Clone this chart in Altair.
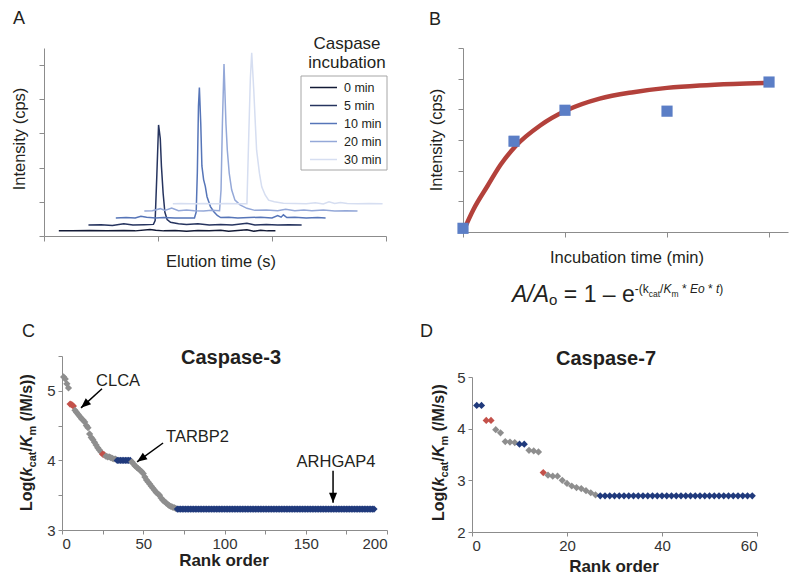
import altair as alt
import pandas as pd

FONT = "Liberation Sans"
TXT = "#231f20"
AX = "#8c8c8c"
H = 568  # drawing height

# ---------------- Panel A : elution traces ----------------
trace_labels = ["0 min", "5 min", "10 min", "20 min", "30 min"]
trace_colors = ["#131a36", "#26345f", "#5675b8", "#94a8d8", "#d6def1"]

t0_x = [0.13, 0.25, 0.40, 0.55, 0.70, 0.80, 0.93, 0.98, 1.05, 1.15, 1.25, 1.35, 1.45, 1.55, 1.62, 1.70, 1.78, 1.84, 1.90, 1.96, 2.03]
t0_y = [0.15, 0.15, 0.16, 0.15, 0.16, 0.15, 0.19, 0.17, 0.15, 0.16, 0.14, 0.16, 0.15, 0.17, 0.14, 0.16, 0.18, 0.14, 0.17, 0.15, 0.15]

t5_x = [0.39, 0.50, 0.60, 0.70, 0.78, 0.88, 0.96, 0.975, 0.99, 1.005, 1.02, 1.03, 1.045, 1.06, 1.08, 1.11,
        1.18, 1.25, 1.35, 1.45, 1.55, 1.65, 1.78, 1.85, 1.95, 2.05, 2.15, 2.26]
t5_y = [0.32, 0.33, 0.31, 0.36, 0.32, 0.33, 0.34, 0.45, 1.80, 3.25, 2.85, 2.05, 1.25, 0.70, 0.48, 0.40,
        0.36, 0.34, 0.36, 0.32, 0.34, 0.32, 0.37, 0.32, 0.34, 0.32, 0.33, 0.32]

t10_x = [0.63, 0.72, 0.80, 0.85, 0.90, 0.98, 1.05, 1.15, 1.25, 1.32,
         1.335, 1.345, 1.355, 1.363, 1.375, 1.385, 1.40, 1.415, 1.43, 1.46, 1.49, 1.52, 1.55,
         1.62, 1.70, 1.80, 1.90, 2.00, 2.05, 2.08, 2.10, 2.13, 2.20, 2.30, 2.40, 2.47]
t10_y = [0.53, 0.54, 0.53, 0.58, 0.55, 0.53, 0.54, 0.53, 0.53, 0.53,
         0.70, 1.85, 3.80, 4.34, 3.30, 2.05, 1.65, 1.45, 1.15, 0.86, 0.71, 0.60, 0.54,
         0.55, 0.53, 0.54, 0.55, 0.53, 0.60, 0.55, 0.62, 0.54, 0.55, 0.53, 0.54, 0.53]

t20_x = [0.88, 0.95, 1.02, 1.06, 1.12, 1.18, 1.25, 1.32, 1.40, 1.47, 1.54,
         1.553, 1.565, 1.579, 1.596, 1.608, 1.625, 1.646, 1.675, 1.72, 1.78, 1.85,
         1.95, 2.05, 2.12, 2.20, 2.28, 2.35, 2.45, 2.55, 2.65, 2.75]
t20_y = [0.73, 0.74, 0.80, 0.75, 0.82, 0.74, 0.76, 0.74, 0.73, 0.75, 0.74,
         1.35, 3.30, 5.03, 3.29, 2.51, 1.83, 1.35, 1.05, 0.91, 0.81, 0.75,
         0.76, 0.74, 0.78, 0.74, 0.76, 0.74, 0.76, 0.73, 0.74, 0.73]

t30_x = [1.13, 1.20, 1.30, 1.40, 1.50, 1.60, 1.70, 1.78,
         1.795, 1.81, 1.822, 1.84, 1.855, 1.865, 1.89, 1.91, 1.94, 1.97, 2.02,
         2.10, 2.20, 2.30, 2.38, 2.45, 2.50, 2.55, 2.60, 2.66, 2.75, 2.85, 2.97]
t30_y = [0.94, 0.95, 0.94, 0.95, 0.94, 0.95, 0.94, 0.94,
         2.80, 4.60, 5.36, 4.27, 3.20, 2.51, 1.83, 1.44, 1.20, 1.05, 1.00,
         0.96, 0.95, 0.94, 0.97, 0.94, 1.00, 0.95, 0.98, 0.95, 0.94, 0.95, 0.94]

# ---------------- Panel B : kinetics ----------------
b_time = [0, 5, 10, 20, 30]
b_intensity = [0.12, 2.96, 3.97, 3.94, 4.89]
fit_time = [0, 1, 2.4, 3.7, 5.1, 7.6, 10.1, 13.4, 16.7, 20, 23.2, 26.5, 30]
fit_intensity = [0.0, 0.72, 1.50, 2.20, 2.78, 3.48, 3.96, 4.35, 4.56, 4.70, 4.78, 4.83, 4.86]

# ---------------- Panel C : caspase-3 ----------------
c_head = [5.20, 5.17, 5.10, 5.04, 4.81, 4.80, 4.78, 4.72, 4.69, 4.66, 4.63, 4.60, 4.58, 4.55, 4.50, 4.47,
          4.38, 4.33, 4.30, 4.26, 4.22, 4.18, 4.15, 4.12, 4.09, 4.08, 4.06, 4.05, 4.05, 4.04, 4.03, 4.02, 4.02,
          4.00, 4.00, 4.00, 4.00, 4.00, 4.00, 4.00, 4.00, 4.00,
          3.98, 3.95, 3.92, 3.90, 3.88, 3.86, 3.84, 3.81, 3.76, 3.72, 3.69, 3.66, 3.63, 3.60, 3.57, 3.54,
          3.52, 3.50, 3.46, 3.43, 3.41, 3.39, 3.37, 3.35, 3.34, 3.33, 3.32, 3.31]
c_tail_value = 3.30
c_count = 192
c_red = [5, 6, 7, 25, 26]
c_blue = list(range(34, 43)) + list(range(71, 193))

# ---------------- Panel D : caspase-7 ----------------
d_head = [4.45, 4.45, 4.16, 4.16, 3.98, 3.92, 3.75, 3.74, 3.73, 3.70, 3.70, 3.58, 3.57, 3.55, 3.15,
          3.10, 3.08, 3.08, 3.00, 2.94, 2.89, 2.86, 2.84, 2.80, 2.76, 2.72]
d_tail_value = 2.70
d_count = 59
d_red = [3, 4, 15]
d_blue = [1, 2, 10, 11] + list(range(27, 60))

grp_domain = ["gray", "red", "blue"]
grp_colors = ["#8e8e8e", "#c4514a", "#203a7c"]

c_notes = ["CLCA", "TARBP2", "ARHGAP4"]
c_note_rank = [34.5, 83.4, 168.6]
c_note_val = [5.14, 4.33, 3.97]
arrow_rank = [24.6, 62.2, 166.8]
arrow_val = [5.03, 4.25, 3.85]
arrow_tip_rank = [11.7, 46.2, 166.8]
arrow_tip_val = [4.755, 3.98, 3.39]
arrow_angle = [228, 234, 180]

# ---------------- helpers ----------------
dummy = pd.DataFrame({"d": [0]})

def txt(s, x, y, size, weight="normal", style="normal", angle=0, align="left",
        baseline="alphabetic", color=TXT):
    return alt.Chart(dummy).mark_text(
        text=s, font=FONT, fontSize=size, fontWeight=weight, fontStyle=style,
        angle=angle, align=align, baseline=baseline, color=color
    ).encode(x=alt.value(x), y=alt.value(y))

REG_W = {' ': 278, 'A': 667, '/': 278, 'o': 556, '=': 584, '1': 556, '–': 556, 'e': 556, '-': 333,
         '(': 333, ')': 333, 'k': 500, 'c': 500, 'a': 556, 't': 278, 'K': 667, 'm': 833, '*': 389, 'E': 667}
BOLD_W = {' ': 278, 'L': 611, 'o': 611, 'g': 611, '(': 333, ')': 333, 'k': 556, 'c': 556, 'a': 556,
          't': 333, '/': 278, 'K': 722, 'm': 889, 'M': 833, 's': 556}

def w(s, size, bold):
    tbl = BOLD_W if bold else REG_W
    return sum(tbl.get(ch, 556) for ch in s) * size / 1000.0

def runs_layout(runs, x0, y0, vertical=False):
    out = []
    pos = 0.0
    for s, size, weight, style, off in runs:
        bold = weight == "bold"
        core = s.strip(" ")
        lead = len(s) - len(s.lstrip(" "))
        trail = len(s) - len(s.rstrip(" "))
        pos += lead * w(" ", size, bold)
        if vertical:
            out.append(txt(core, x0 + off, y0 - pos, size, weight, style, angle=270))
        else:
            out.append(txt(core, x0 + pos, y0 + off, size, weight, style))
        pos += w(core, size, bold) + trail * w(" ", size, bold)
    return out

def axis(orient, at, values, labels=True, label_expr=None, tick=4, pad=3):
    offset = (at - H) if orient == "bottom" else -at
    kw = dict(orient=orient, offset=offset, values=values, title=None, grid=False,
              domainColor=AX, tickColor=AX, tickSize=tick, domainWidth=1, tickWidth=1,
              labels=labels, labelFont=FONT, labelFontSize=15, labelColor="#333333",
              labelPadding=pad)
    if label_expr:
        kw["labelExpr"] = label_expr
    return alt.Axis(**kw)

# ---------------- Panel A ----------------
rows = []
for lab, xs, ys in zip(trace_labels, [t0_x, t5_x, t10_x, t20_x, t30_x], [t0_y, t5_y, t10_y, t20_y, t30_y]):
    for xv, yv in zip(xs, ys):
        rows.append({"series": lab, "x": xv, "y": yv})
df_a = pd.DataFrame(rows)

a_x = alt.X("x:Q", scale=alt.Scale(domain=[0, 3], range=[36, 378], nice=False, zero=False),
            axis=axis("bottom", 228, [0, 1, 2, 3], labels=False, tick=5))
a_y = alt.Y("y:Q", scale=alt.Scale(domain=[0, 5.5], range=[228, 40], nice=False, zero=False),
            axis=axis("left", 36, [0, 1, 2, 3, 4, 5], labels=False, tick=5))
panel_a = alt.Chart(df_a).mark_line(strokeWidth=1.5).encode(
    x=a_x, y=a_y,
    color=alt.Color("series:N", scale=alt.Scale(domain=trace_labels, range=trace_colors), legend=None),
)

legend_parts = [alt.Chart(dummy).mark_rect(fill="white", stroke="#a6a6a6", strokeWidth=1).encode(
    x=alt.value(293), x2=alt.value(379), y=alt.value(68), y2=alt.value(162))]
for i, (lab, col) in enumerate(zip(trace_labels, trace_colors)):
    yy = 79.5 + 18 * i
    legend_parts.append(alt.Chart(dummy).mark_rule(color=col, strokeWidth=1.5).encode(
        x=alt.value(302), x2=alt.value(329), y=alt.value(yy)))
    legend_parts.append(txt(lab, 336, yy, 12.5, baseline="middle"))

# ---------------- Panel B ----------------
df_b = pd.DataFrame({"t": b_time, "v": b_intensity})
df_fit = pd.DataFrame({"t": fit_time, "v": fit_intensity})
b_x = alt.X("t:Q", scale=alt.Scale(domain=[0, 31.86], range=[455, 780], nice=False, zero=False),
            axis=axis("bottom", 224, [0, 10, 20, 30], labels=False, tick=5))
b_y = alt.Y("v:Q", scale=alt.Scale(domain=[0, 6], range=[224, 40], nice=False, zero=False),
            axis=axis("left", 455, [0, 1, 2, 3, 4, 5, 6], labels=False, tick=5))
panel_b = alt.layer(
    alt.Chart(df_fit).mark_line(color="#b3413b", strokeWidth=4.5, interpolate="monotone").encode(x=b_x, y=b_y),
    alt.Chart(df_b).mark_square(color="#5b7ec6", size=125, opacity=1).encode(x=b_x, y=b_y),
)

# ---------------- Panel C ----------------
def build_rank_df(head, tail_value, count, red, blue):
    vals = head + [tail_value] * (count - len(head))
    grp = ["red" if r in red else ("blue" if r in blue else "gray") for r in range(1, count + 1)]
    return pd.DataFrame({"rank": list(range(1, count + 1)), "val": vals, "grp": grp})

df_c = build_rank_df(c_head, c_tail_value, c_count, c_red, c_blue)
df_d = build_rank_df(d_head, d_tail_value, d_count, d_red, d_blue)

grp_color = alt.Color("grp:N", scale=alt.Scale(domain=grp_domain, range=grp_colors), legend=None)

c_x = alt.X("rank:Q", scale=alt.Scale(domain=[0, 200], range=[54, 379], nice=False, zero=False),
            axis=axis("bottom", 522, list(range(0, 201, 25)), pad=2,
                      label_expr="datum.value % 50 === 0 ? format(datum.value, 'd') : ''"))
c_y = alt.Y("val:Q", scale=alt.Scale(domain=[3, 5.5], range=[522, 348], nice=False, zero=False),
            axis=axis("left", 54, [3, 3.5, 4, 4.5, 5, 5.5],
                      label_expr="datum.value % 1 === 0 ? format(datum.value, 'd') : ''"))

ARROW = "M0,0L-0.8,2L0.8,2Z"
df_notes = pd.DataFrame({"rank": c_note_rank, "val": c_note_val, "label": c_notes})
df_arrows = pd.DataFrame({"rank": arrow_rank, "val": arrow_val, "rank2": arrow_tip_rank,
                          "val2": arrow_tip_val, "ang": arrow_angle})

panel_c = alt.layer(
    alt.Chart(df_c).mark_point(shape="diamond", filled=True, size=52, opacity=1).encode(
        x=c_x, y=c_y, color=grp_color),
    alt.Chart(df_notes).mark_text(font=FONT, fontSize=16.5, color=TXT, align="center",
                                  baseline="middle").encode(x="rank:Q", y="val:Q", text="label:N"),
    alt.Chart(df_arrows).mark_rule(color="black", strokeWidth=1.5).encode(
        x="rank:Q", y="val:Q", x2="rank2:Q", y2="val2:Q"),
    alt.Chart(df_arrows).mark_point(shape=ARROW, filled=True, size=100, color="black", opacity=1).encode(
        x=alt.X("rank2:Q"), y=alt.Y("val2:Q"), angle=alt.Angle("ang:Q", scale=None)),
)

# ---------------- Panel D ----------------
d_x = alt.X("rank:Q", scale=alt.Scale(domain=[0, 60], range=[464, 749], nice=False, zero=False),
            axis=axis("bottom", 524, [0, 20, 40, 60], pad=2))
d_y = alt.Y("val:Q", scale=alt.Scale(domain=[2, 5], range=[524, 369], nice=False, zero=False),
            axis=axis("left", 464, [2, 3, 4, 5]))
panel_d = alt.Chart(df_d).mark_point(shape="diamond", filled=True, size=52, opacity=1).encode(
    x=d_x, y=d_y, color=grp_color)

# ---------------- Texts ----------------
texts = [
    txt("A", 5, 16, 18), txt("B", 421, 17, 18), txt("C", 14, 329, 18), txt("D", 412, 329, 18),
    txt("Intensity (cps)", 12, 131, 16.5, angle=270, align="center", baseline="middle"),
    txt("Elution time (s)", 213, 259, 16.5, align="center"),
    txt("Caspase", 339, 41, 17, align="center"),
    txt("incubation", 339, 60, 17, align="center"),
    txt("Intensity (cps)", 429, 132, 16.5, angle=270, align="center", baseline="middle"),
    txt("Incubation time (min)", 619, 255, 16.5, align="center"),
    txt("Caspase-3", 223, 356, 20, weight="bold", align="center"),
    txt("Caspase-7", 598, 357, 20, weight="bold", align="center"),
    txt("Rank order", 216, 558, 17, weight="bold", align="center"),
    txt("Rank order", 606, 564, 17, weight="bold", align="center"),
]

formula_runs = [
    ("A/A", 23, "normal", "italic", 0),
    ("o", 15, "normal", "normal", 3),
    (" = 1 – e", 23, "normal", "normal", 0),
    ("-(", 12, "normal", "normal", -9),
    ("k", 12, "normal", "normal", -9),
    ("cat", 8.5, "normal", "normal", -5),
    ("/", 12, "normal", "normal", -9),
    ("K", 12, "normal", "italic", -9),
    ("m", 8.5, "normal", "normal", -5),
    (" * ", 12, "normal", "normal", -9),
    ("Eo", 12, "normal", "italic", -9),
    (" * ", 12, "normal", "normal", -9),
    ("t", 12, "normal", "italic", -9),
    (")", 12, "normal", "normal", -9),
]
texts += runs_layout(formula_runs, 504, 294)

ytitle_runs = [
    ("Log(", 16, "bold", "normal", 0),
    ("k", 16, "bold", "italic", 0),
    ("cat", 11, "bold", "normal", 4),
    ("/", 16, "bold", "normal", 0),
    ("K", 16, "bold", "italic", 0),
    ("m", 11, "bold", "normal", 4),
    (" (/M/s))", 16, "bold", "normal", 0),
]
texts += runs_layout(ytitle_runs, 24, 503, vertical=True)
texts += runs_layout(ytitle_runs, 436, 513, vertical=True)

chart = alt.layer(
    panel_a, panel_b, panel_c, panel_d, *legend_parts, *texts
).resolve_scale(
    x="independent", y="independent", color="independent"
).properties(
    width=784, height=H, autosize=alt.AutoSizeParams(type="none"), padding=0
).configure_view(strokeWidth=0)

chart.save("out.html", embed_options={"renderer": "svg", "actions": False})
